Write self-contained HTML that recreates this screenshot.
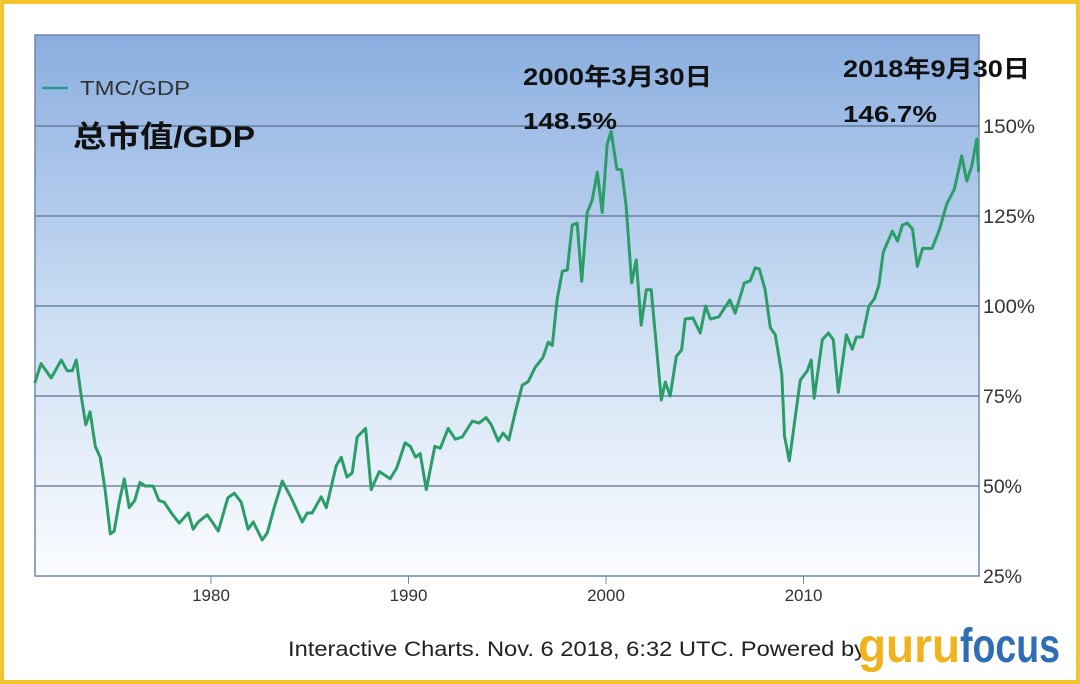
<!DOCTYPE html>
<html><head><meta charset="utf-8"><style>
html,body{margin:0;padding:0;}
body{width:1080px;height:684px;position:relative;background:#fff;overflow:hidden;font-family:"Liberation Sans","Noto Sans CJK SC",sans-serif;}
#frame{position:absolute;left:0;top:0;width:1072px;height:676px;border:4px solid #f4c430;}
</style></head><body>
<div id="frame"></div>
<svg id="chart" width="1080" height="684" style="position:absolute;left:0;top:0">
<defs><linearGradient id="bg" x1="0" y1="0" x2="0" y2="1">
<stop offset="0" stop-color="#8aaee0"/><stop offset="0.55" stop-color="#cfe0f4"/><stop offset="1" stop-color="#fbfcff"/></linearGradient></defs>
<rect x="35" y="35" width="944" height="541" fill="url(#bg)" stroke="#7089aa" stroke-width="1.5"/>
<g id="grid"></g><g id="yt"></g><g id="xt"></g>
<path id="line" fill="none" stroke="#2a9d68" stroke-width="3" stroke-linejoin="round"/>
<line x1="42" y1="88" x2="68" y2="88" stroke="#2a9d8a" stroke-width="2.5"/>
<text x="80" y="95" font-size="20" fill="#333" textLength="110" lengthAdjust="spacingAndGlyphs">TMC/GDP</text>
<text x="73" y="147" font-size="30" font-weight="bold" fill="#111" textLength="182" lengthAdjust="spacingAndGlyphs">总市值/GDP</text>
<text x="523" y="85" font-size="24" font-weight="bold" fill="#111" textLength="189" lengthAdjust="spacingAndGlyphs">2000年3月30日</text>
<text x="523" y="129" font-size="23" font-weight="bold" fill="#111" textLength="94" lengthAdjust="spacingAndGlyphs">148.5%</text>
<text x="843" y="77" font-size="24" font-weight="bold" fill="#111" textLength="187" lengthAdjust="spacingAndGlyphs">2018年9月30日</text>
<text x="843" y="122" font-size="23" font-weight="bold" fill="#111" textLength="94" lengthAdjust="spacingAndGlyphs">146.7%</text>
<text x="288" y="656" font-size="21" fill="#222" textLength="578" lengthAdjust="spacingAndGlyphs">Interactive Charts. Nov. 6 2018, 6:32 UTC. Powered by</text>
<text x="858" y="662" font-size="48" font-weight="bold" fill="#f0b31c" textLength="102" lengthAdjust="spacingAndGlyphs">guru</text>
<text x="960" y="662" font-size="48" font-weight="bold" fill="#2f6db5" textLength="100" lengthAdjust="spacingAndGlyphs">focus</text>
</svg>
<script>
const years=[1971.08,1971.39,1971.91,1972.42,1972.72,1972.97,1973.18,1973.43,1973.66,1973.88,1974.14,1974.39,1974.64,1974.90,1975.10,1975.35,1975.61,1975.86,1976.14,1976.40,1976.67,1977.07,1977.36,1977.63,1977.99,1978.39,1978.85,1979.10,1979.35,1979.81,1980.06,1980.37,1980.85,1981.18,1981.53,1981.88,1982.14,1982.59,1982.85,1983.20,1983.61,1984.06,1984.62,1984.87,1985.12,1985.58,1985.84,1986.34,1986.59,1986.88,1987.15,1987.40,1987.83,1988.11,1988.52,1989.07,1989.40,1989.83,1990.09,1990.36,1990.59,1990.90,1991.33,1991.61,1992.01,1992.37,1992.72,1993.23,1993.58,1993.93,1994.19,1994.54,1994.79,1995.08,1995.43,1995.76,1996.06,1996.42,1996.80,1997.08,1997.28,1997.53,1997.79,1998.04,1998.29,1998.54,1998.77,1999.05,1999.30,1999.56,1999.81,2000.06,2000.26,2000.55,2000.79,2001.02,2001.30,2001.53,2001.78,2002.04,2002.29,2002.52,2002.80,2003.00,2003.25,2003.56,2003.83,2004.01,2004.40,2004.77,2005.05,2005.28,2005.71,2006.27,2006.54,2007.00,2007.30,2007.56,2007.76,2008.06,2008.32,2008.57,2008.90,2009.04,2009.28,2009.53,2009.84,2010.19,2010.39,2010.54,2010.95,2011.26,2011.51,2011.76,2012.17,2012.47,2012.68,2012.98,2013.31,2013.59,2013.82,2014.04,2014.50,2014.76,2015.01,2015.26,2015.52,2015.76,2016.03,2016.51,2016.89,2017.25,2017.64,2018.01,2018.27,2018.52,2018.77,2018.87];
const values=[78.6,84,80,85,82,82,85,75,67,70.6,61,58,49,36.7,37.5,45.5,52,44,46,51,50,50,46,45.5,42.5,39.7,42.5,38,40,42,40,37.5,46.7,48,45.5,38,40,35,37,44,51.4,46.7,40,42.5,42.5,47,44,55.6,58,52.5,53.6,63.6,66,49,54,52,55,62,61,58,59,49,61,60.5,66,63,63.6,68,67.5,69,67,62.5,64.7,62.8,71,78,79,83,85.6,90,89,102,109.7,110,122.5,123,106.9,126,129.4,137.2,126,145,148.5,138,137.8,127.8,106.4,112.8,94.7,104.5,104.5,90.6,73.9,78.9,75,86,87.8,96.4,96.7,92.5,100,96.4,97,101.7,98,106.4,107,110.6,110.3,104.4,94,92,81,63.9,57,67,79.4,82,85,74.4,90.6,92.5,90.6,76,92,88,91.4,91.4,100,102,105.8,115,120.8,118,122.5,123,121.4,111,116,116,121.4,128.3,132.5,141.7,134.7,138.9,146.4,137.2];
const yTicks=[25,50,75,100,125,150];
const yTickLabels=["25%","50%","75%","100%","125%","150%"];
const xTicks=[1980,1990,2000,2010];
const xTickLabels=["1980","1990","2000","2010"];
const NS='http://www.w3.org/2000/svg';
const X=y=>211+(y-1980)*19.75;
const Y=v=>576-(v-25)*3.6;
const grid=document.getElementById('grid'),yt=document.getElementById('yt'),xt=document.getElementById('xt');
yTicks.forEach((t,i)=>{
  if(t>25&&t<175){const l=document.createElementNS(NS,'line');
  l.setAttribute('x1',35);l.setAttribute('x2',979);l.setAttribute('y1',Y(t));l.setAttribute('y2',Y(t));
  l.setAttribute('stroke','#5a6f8c');l.setAttribute('stroke-width','1.2');
  
  
  grid.appendChild(l);}
  const tx=document.createElementNS(NS,'text');
  tx.setAttribute('x',983);tx.setAttribute('y',Y(t)+7);tx.setAttribute('font-size','19');tx.setAttribute('fill','#333');
  tx.setAttribute('textLength',yTickLabels[i].length*13);
  tx.setAttribute('lengthAdjust','spacingAndGlyphs');
  tx.textContent=yTickLabels[i];
  
  
  yt.appendChild(tx);
});
xTicks.forEach((t,i)=>{
  const l=document.createElementNS(NS,'line');
  l.setAttribute('x1',X(t));l.setAttribute('x2',X(t));l.setAttribute('y1',576);l.setAttribute('y2',584);
  l.setAttribute('stroke','#7089aa');
  
  
  xt.appendChild(l);
  const tx=document.createElementNS(NS,'text');
  tx.setAttribute('x',X(t));tx.setAttribute('y',589);tx.setAttribute('font-size','17');tx.setAttribute('fill','#333');tx.setAttribute('text-anchor','middle');
  tx.setAttribute('dy','0.7em');
  tx.textContent=xTickLabels[i];
  
  
  xt.appendChild(tx);
});
document.getElementById('line').setAttribute('d',years.map((y,i)=>(i?'L':'M')+X(y).toFixed(1)+','+Y(values[i]).toFixed(1)).join(''));
</script>
</body></html>
